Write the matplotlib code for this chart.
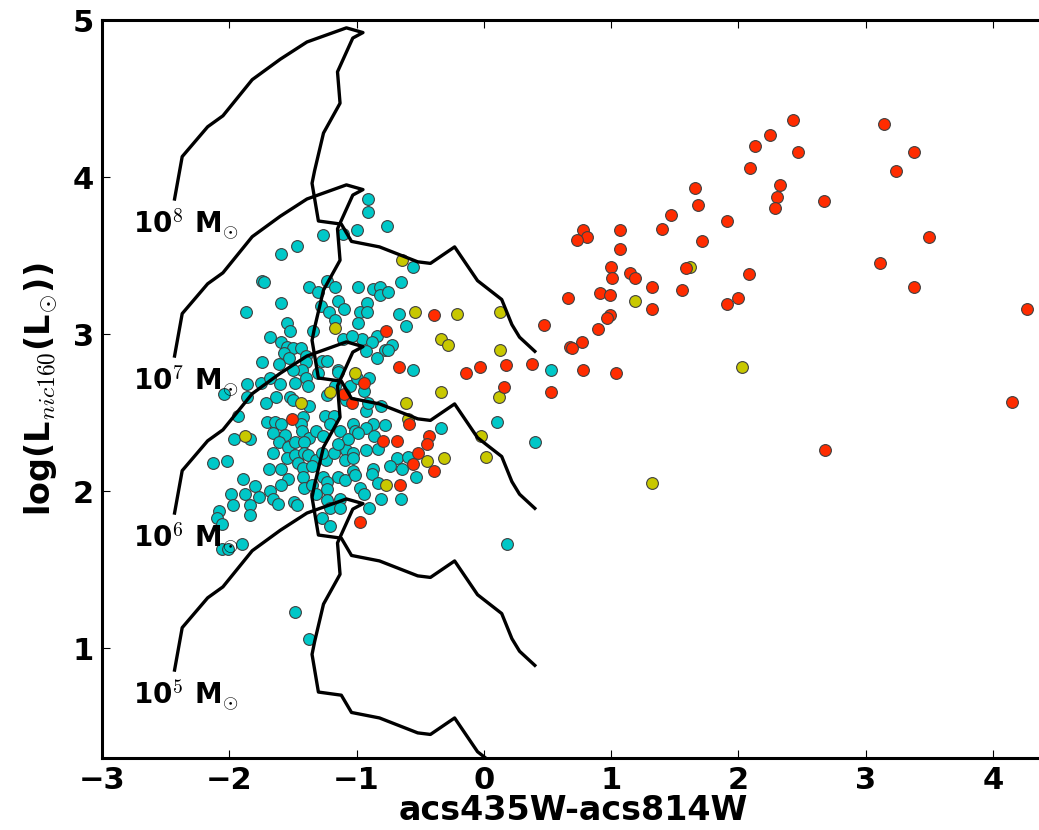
import numpy as np
from matplotlib import pyplot as plt

# colour of the galaxy clusters (acs435W-acs814W) and log luminosity in nic160
cyan_x = [-0.91, -0.91, -1.00, -0.76, -0.56, -0.65, -0.99, -0.87, -0.82, -0.82, -0.75, -0.92, -0.97,
          -0.92, -0.67, -0.61, -0.99, -0.84, -0.96, -0.88, -0.72, -0.78, -0.84, -0.75, -0.56, -0.93,
          -1.26, -1.11, -1.47, -1.59, -1.74, -1.73, -1.37, -1.30, -1.23, -1.17, -1.59, -1.87, -1.15,
          -1.10, -1.28, -1.22, -1.17, -1.55, -1.52, -1.34, -1.11, -1.04, -1.68, -1.59, -1.55, -1.50,
          -1.44, -1.57, -1.53, -1.61, -1.74, -1.40, -1.40, -1.27, -1.23, -1.15, -1.43, -1.50, -1.86,
          -2.04, -1.86, -1.75, -1.68, -1.60, -1.71, -1.63, -1.52, -1.48, -1.40, -1.38, -1.30, -1.50,
          -1.37, -1.42, -1.15, -1.17, -1.23, -1.05, -1.00, -1.08, -1.93, -1.70, -1.64, -1.59, -1.66,
          -1.56, -1.44, -1.43, -1.37, -1.32, -1.25, -1.18, -1.21, -1.13, -1.26, -1.03, -1.01, -1.96,
          -1.84, -1.61, -1.54, -1.48, -1.41, -1.66, -1.55, -1.48, -1.41, -1.38, -1.32, -1.46, -1.42,
          -1.35, -1.24, -1.27, -1.18, -1.08, -1.09, -1.03, -2.13, -2.02, -1.69, -1.59, -1.42, -1.54,
          -1.59, -1.89, -1.80, -1.41, -1.35, -1.32, -1.26, -1.23, -1.23, -1.15, -1.09, -1.03, -1.03,
          -1.07, -1.15, -1.99, -1.88, -1.77, -1.68, -1.66, -1.62, -1.97, -1.84, -1.84, -1.49, -1.47,
          -1.23, -1.13, -1.21, -1.27, -1.13, -1.21, -2.08, -2.10, -2.06, -2.06, -2.01, -1.90,
          -0.90, -0.94, -0.93, -0.81, -0.91, -0.78, -0.87, -0.93, -0.99, -0.86, -0.93, -0.83, -0.68,
          -0.74, -0.64, -0.60, -0.53, -0.87, -0.88, -0.83, -0.97, -0.94, -0.81, -0.65, -0.90, -1.01,
          0.53, 0.40, 0.18, 0.10, -0.34, -1.48, -1.37]
cyan_y = [3.86, 3.78, 3.66, 3.69, 3.43, 3.33, 3.30, 3.29, 3.30, 3.25, 3.27, 3.20, 3.14,
          3.14, 3.13, 3.05, 3.07, 2.99, 2.97, 2.95, 2.93, 2.90, 2.85, 2.90, 2.77, 2.89,
          3.63, 3.64, 3.56, 3.51, 3.34, 3.33, 3.30, 3.27, 3.34, 3.30, 3.20, 3.14, 3.21,
          3.16, 3.18, 3.14, 3.09, 3.07, 3.02, 3.02, 2.97, 2.99, 2.98, 2.95, 2.92, 2.91,
          2.91, 2.88, 2.85, 2.81, 2.82, 2.86, 2.82, 2.83, 2.83, 2.77, 2.77, 2.77, 2.60,
          2.62, 2.68, 2.69, 2.72, 2.68, 2.56, 2.60, 2.60, 2.69, 2.72, 2.67, 2.75, 2.58,
          2.54, 2.47, 2.76, 2.67, 2.61, 2.67, 2.72, 2.58, 2.48, 2.44, 2.44, 2.43, 2.37,
          2.36, 2.43, 2.38, 2.34, 2.38, 2.48, 2.48, 2.43, 2.38, 2.35, 2.43, 2.38, 2.33,
          2.33, 2.31, 2.28, 2.31, 2.31, 2.24, 2.21, 2.23, 2.24, 2.23, 2.20, 2.18, 2.15,
          2.16, 2.20, 2.24, 2.24, 2.26, 2.20, 2.24, 2.18, 2.19, 2.14, 2.14, 2.09, 2.08,
          2.04, 2.08, 2.03, 2.02, 2.04, 1.98, 2.09, 2.06, 2.01, 2.09, 2.07, 2.13, 2.21,
          2.33, 2.30, 1.98, 1.98, 1.96, 2.00, 1.95, 1.92, 1.91, 1.91, 1.85, 1.93, 1.91,
          1.94, 1.95, 1.89, 1.83, 1.89, 1.78, 1.87, 1.83, 1.79, 1.63, 1.63, 1.66,
          2.72, 2.64, 2.51, 2.54, 2.56, 2.42, 2.43, 2.40, 2.37, 2.35, 2.26, 2.27, 2.21,
          2.16, 2.14, 2.22, 2.09, 2.14, 2.11, 2.05, 2.02, 1.98, 1.95, 1.95, 1.89, 2.10,
          2.77, 2.31, 1.66, 2.44, 2.40, 1.23, 1.06]

yellow_x = [1.19, 2.03, 1.32, 1.62, 0.13, 0.13, 0.12, -1.01, -0.34, -0.61, -0.60, -0.02, 0.02,
            -0.45, -0.31, -0.77, -0.64, -0.54, -0.21, -0.34, -0.28, -1.17, -1.44, -1.21, -1.88]
yellow_y = [3.21, 2.79, 2.05, 3.43, 3.14, 2.90, 2.60, 2.75, 2.63, 2.56, 2.46, 2.35, 2.22,
            2.19, 2.21, 2.04, 3.47, 3.14, 3.13, 2.97, 2.93, 3.04, 2.56, 2.63, 2.35]

red_x = [2.43, 3.14, 2.25, 2.13, 2.47, 3.38, 2.09, 3.24, 1.66, 2.33, 2.30, 2.29, 1.68, 2.67,
         1.47, 1.40, 1.91, 1.07, 0.78, 0.81, 0.73, 1.07, 1.71, 3.50, 1.00, 1.01, 1.15,
         1.19, 1.59, 2.08, 3.11, 3.38, 0.66, 0.91, 0.99, 1.32, 1.56, 1.91, 2.00, 1.32, 4.27,
         0.47, 0.99, 0.97, 0.90, 0.77, 0.68, 0.69, 0.38, 0.17, 0.78, 1.04, 0.16, 0.53, 4.15,
         2.68, -0.03, -0.14, -0.39, -0.77, -0.67, -0.94, -1.10, -1.04, -1.51, -0.97,
         -0.59, -0.43, -0.45, -0.79, -0.68, -0.52, -0.56, -0.39, -0.66]
red_y = [4.36, 4.34, 4.27, 4.20, 4.16, 4.16, 4.06, 4.04, 3.93, 3.95, 3.87, 3.80, 3.82, 3.85,
         3.76, 3.67, 3.72, 3.66, 3.66, 3.62, 3.60, 3.54, 3.59, 3.62, 3.43, 3.36, 3.39,
         3.355, 3.42, 3.38, 3.45, 3.30, 3.23, 3.26, 3.25, 3.30, 3.28, 3.19, 3.23, 3.16, 3.16,
         3.06, 3.12, 3.10, 3.03, 2.95, 2.92, 2.91, 2.81, 2.80, 2.77, 2.75, 2.66, 2.63, 2.57,
         2.26, 2.79, 2.75, 3.12, 3.02, 2.79, 2.69, 2.62, 2.56, 2.46, 1.80,
         2.43, 2.35, 2.30, 2.32, 2.32, 2.24, 2.17, 2.13, 2.04]

# evolutionary track for a 10^8 Msun cluster; lower masses are shifted down by 1 dex
track_x = [-2.43, -2.37, -2.17, -2.05, -1.82, -1.60, -1.39, -1.08, -0.95, -1.03, -1.15, -1.13,
           -1.26, -1.33, -1.35, -1.30, -1.12, -1.04, -0.82, -0.52, -0.42, -0.23, -0.05, 0.14,
           0.22, 0.28, 0.40]
track_y = [3.86, 4.13, 4.32, 4.39, 4.62, 4.75, 4.86, 4.95, 4.92, 4.885, 4.67, 4.47,
           4.28, 4.04, 3.96, 3.72, 3.70, 3.59, 3.555, 3.46, 3.45, 3.555, 3.34, 3.22,
           3.06, 2.98, 2.89]
log_masses = [8, 7, 6, 5]

plt.rcParams['font.weight'] = 'bold'
plt.rcParams['mathtext.fontset'] = 'cm'

fig = plt.figure(figsize=(10.39, 8.30), dpi=100)
ax = fig.add_axes([102 / 1039., 72 / 830., 942 / 1039., 738 / 830.])

ax.scatter(cyan_x, cyan_y, s=72, c='#00c8c8', edgecolors='0.25', linewidths=0.8, zorder=2)
ax.scatter(yellow_x, yellow_y, s=72, c='#c8c800', edgecolors='0.25', linewidths=0.8, zorder=2)
ax.scatter(red_x, red_y, s=72, c='#ff2c00', edgecolors='0.25', linewidths=0.8, zorder=2)

for m in log_masses:
    shift = m - 8
    ax.plot(track_x, np.array(track_y) + shift, color='black', lw=2.4, zorder=3)
    ax.text(-2.76, m - 4.36, r'10$^{%d}$ M$_{\odot}$' % m, fontsize=20, fontweight='bold',
            ha='left', va='baseline', zorder=4)

ax.set_xlim(-3, 4.4)
ax.set_ylim(0.3, 5)
ax.set_xticks(range(-3, 5))
ax.set_yticks(range(1, 6))
ax.tick_params(direction='in', top=True, right=False, length=6, width=0.8, labelsize=22, pad=6)
for lab in ax.get_xticklabels() + ax.get_yticklabels():
    lab.set_fontweight('bold')
for sp in ax.spines.values():
    sp.set_linewidth(2.2)

ax.set_xlabel('acs435W-acs814W', fontsize=24, fontweight='bold', labelpad=-1)
ax.set_ylabel(r'log(L$_{nic160}$(L$_{\odot}$))', fontsize=24, fontweight='bold', labelpad=9)

fig.savefig('out.png', dpi=100)
